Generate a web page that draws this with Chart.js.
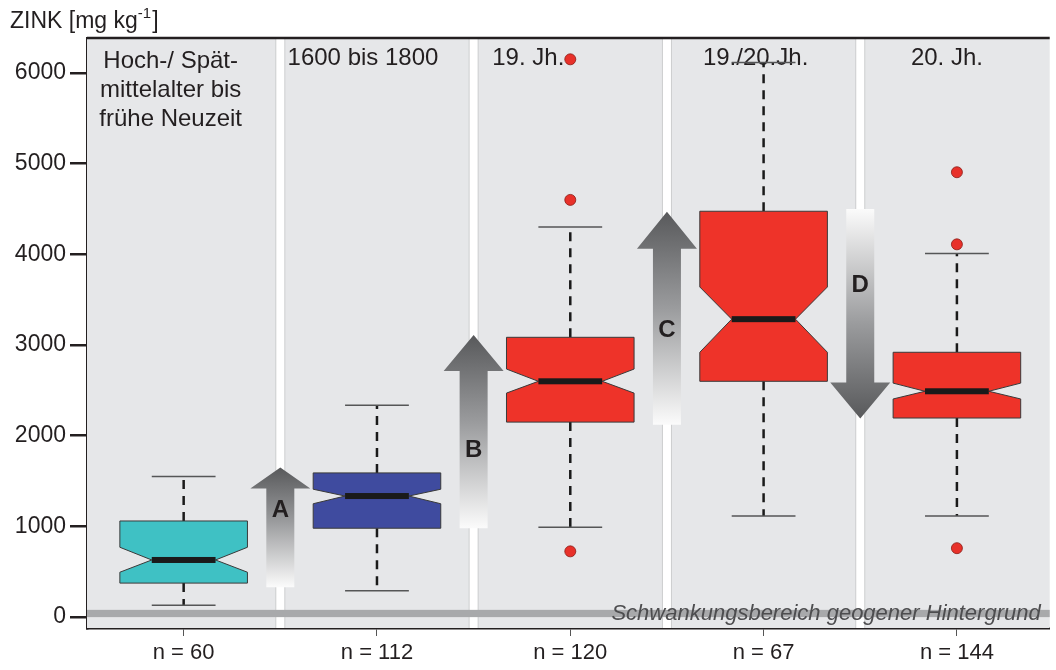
<!DOCTYPE html>
<html lang="de">
<head>
<meta charset="UTF-8">
<title>Zink</title>
<script src="https://cdn.jsdelivr.net/npm/chart.js"></script>
<style>
  body { margin: 0; background: #fff; }
</style>
</head>
<body>
<canvas id="zinkChart" width="1056" height="670"></canvas>
<script>
// Epochen und Stichprobenumfang
const epochen = [['Hoch-/ Spät-', 'mittelalter bis', 'frühe Neuzeit'], ['1600 bis 1800'], ['19. Jh.'], ['19./20.Jh.'], ['20. Jh.']];
const anzahl = [60, 112, 120, 67, 144];

// Boxplot-Kennwerte [mg/kg]
const unterWhisker = [130, 290, 990, 1115, 1115];
const q1 = [375, 980, 2150, 2600, 2195];
const notchUnten = [495, 1250, 2470, 2920, 2405];
const median = [630, 1335, 2600, 3285, 2490];
const notchOben = [770, 1410, 2735, 3640, 2580];
const q3 = [1060, 1590, 3085, 4475, 2920];
const oberWhisker = [1550, 2335, 4300, 6115, 4010];
const boxFarben = ['#3fc1c4', '#3f4b9f', '#ee3329', '#ee3329', '#ee3329'];

// Ausreisser
const ausreisserX = [2, 2, 2, 4, 4, 4];
const ausreisserY = [6150, 4600, 725, 4905, 4110, 760];

// Pfeile zwischen den Epochen
const pfeilX = [0.5, 1.5, 2.5, 3.5];
const pfeilVon = [330, 980, 2120, 4500];
const pfeilBis = [1650, 3110, 4470, 2190];
const pfeilText = ['A', 'B', 'C', 'D'];
const pfeilTextY = [1180, 1840, 3160, 3660];

// geogener Hintergrund
const hintergrund = [0, 80];
const yTicks = [0, 1000, 2000, 3000, 4000, 5000, 6000];

// nur Darstellung
const schrift = "'Liberation Sans', Arial, sans-serif";
const kopfVersatz = [-13, -14, -42, -8, -10];
const pfeilKopf = [21, 36, 37, 36];

const boxPlugin = {
  id: 'boxen',
  beforeDatasetsDraw(chart) {
    const { ctx, chartArea: a, scales: { x, y } } = chart;
    const catW = x.getPixelForValue(1) - x.getPixelForValue(0);
    ctx.save();

    // Hintergrund + Trenner
    ctx.fillStyle = '#e6e7e9';
    ctx.fillRect(a.left, a.top, a.right - a.left, a.bottom - a.top);
    for (let i = 0; i < anzahl.length - 1; i++) {
      const px = x.getPixelForValue(i + 0.5);
      ctx.fillStyle = '#cdcecf';
      ctx.fillRect(px - 5, a.top, 10, a.bottom - a.top);
      ctx.fillStyle = '#ffffff';
      ctx.fillRect(px - 4, a.top, 8, a.bottom - a.top);
    }

    // Band geogener Hintergrund
    const b0 = y.getPixelForValue(hintergrund[0]), b1 = y.getPixelForValue(hintergrund[1]);
    ctx.fillStyle = '#a8a9ab';
    ctx.fillRect(a.left, b1, a.right - a.left, b0 - b1);

    // Kopfzeilen
    ctx.fillStyle = '#231f20';
    ctx.font = '24px ' + schrift;
    ctx.textAlign = 'center';
    ctx.textBaseline = 'alphabetic';
    epochen.forEach((zeilen, i) => {
      const px = x.getPixelForValue(i) + kopfVersatz[i];
      const y0 = zeilen.length > 1 ? 68 : 65;
      zeilen.forEach((t, j) => ctx.fillText(t, px, y0 + j * 29));
    });

    // Pfeile
    pfeilX.forEach((pv, k) => {
      const px = x.getPixelForValue(pv);
      const y0 = y.getPixelForValue(pfeilVon[k]);
      const y1 = y.getPixelForValue(pfeilBis[k]);
      const dir = Math.sign(y1 - y0);
      const yb = y1 - dir * pfeilKopf[k];
      const sw = 14, hw = 30;
      const grad = ctx.createLinearGradient(0, y0, 0, y1);
      grad.addColorStop(0, '#fbfbfb');
      grad.addColorStop(0.55, '#9a9b9d');
      grad.addColorStop(1, '#58595b');
      ctx.fillStyle = grad;
      ctx.beginPath();
      ctx.moveTo(px - sw, y0);
      ctx.lineTo(px - sw, yb);
      ctx.lineTo(px - hw, yb);
      ctx.lineTo(px, y1);
      ctx.lineTo(px + hw, yb);
      ctx.lineTo(px + sw, yb);
      ctx.lineTo(px + sw, y0);
      ctx.closePath();
      ctx.fill();
      ctx.fillStyle = '#231f20';
      ctx.font = 'bold 24px ' + schrift;
      ctx.textBaseline = 'middle';
      ctx.fillText(pfeilText[k], px, y.getPixelForValue(pfeilTextY[k]));
    });

    // Boxen
    median.forEach((m, i) => {
      const cx = x.getPixelForValue(i);
      const hw = catW * 0.33, nw = hw * 0.5;
      const yq1 = y.getPixelForValue(q1[i]), yq3 = y.getPixelForValue(q3[i]);
      const ynu = y.getPixelForValue(notchUnten[i]), yno = y.getPixelForValue(notchOben[i]);
      const ym = y.getPixelForValue(m);
      const ywu = y.getPixelForValue(unterWhisker[i]), ywo = y.getPixelForValue(oberWhisker[i]);

      // Whisker
      ctx.strokeStyle = '#1a1a1a';
      ctx.lineWidth = 2.5;
      ctx.setLineDash([9, 7]);
      ctx.beginPath();
      ctx.moveTo(cx, yq3); ctx.lineTo(cx, ywo);
      ctx.moveTo(cx, yq1); ctx.lineTo(cx, ywu);
      ctx.stroke();
      ctx.setLineDash([]);
      ctx.strokeStyle = '#555657';
      ctx.lineWidth = 1.5;
      ctx.beginPath();
      ctx.moveTo(cx - nw, ywo); ctx.lineTo(cx + nw, ywo);
      ctx.moveTo(cx - nw, ywu); ctx.lineTo(cx + nw, ywu);
      ctx.stroke();

      // Box mit Kerbe
      ctx.fillStyle = boxFarben[i];
      ctx.strokeStyle = '#3a3a3a';
      ctx.lineWidth = 1;
      ctx.beginPath();
      ctx.moveTo(cx - hw, yq3);
      ctx.lineTo(cx + hw, yq3);
      ctx.lineTo(cx + hw, yno);
      ctx.lineTo(cx + nw, ym);
      ctx.lineTo(cx + hw, ynu);
      ctx.lineTo(cx + hw, yq1);
      ctx.lineTo(cx - hw, yq1);
      ctx.lineTo(cx - hw, ynu);
      ctx.lineTo(cx - nw, ym);
      ctx.lineTo(cx - hw, yno);
      ctx.closePath();
      ctx.fill();
      ctx.stroke();

      ctx.fillStyle = '#1a1a1a';
      ctx.fillRect(cx - nw, ym - 3, nw * 2, 6);
    });
    ctx.restore();
  },
  afterDraw(chart) {
    const { ctx, chartArea: a } = chart;
    ctx.save();
    // oberer Rahmen
    ctx.strokeStyle = '#231f20';
    ctx.lineWidth = 2.5;
    ctx.beginPath();
    ctx.moveTo(a.left, a.top);
    ctx.lineTo(a.right, a.top);
    ctx.stroke();

    // Achsentitel
    ctx.fillStyle = '#231f20';
    ctx.textBaseline = 'alphabetic';
    ctx.textAlign = 'left';
    ctx.font = '23px ' + schrift;
    const t = 'ZINK [mg kg';
    ctx.fillText(t, 10, 28);
    let w = ctx.measureText(t).width + 10;
    ctx.font = '15px ' + schrift;
    ctx.fillText('-1', w, 18);
    w += ctx.measureText('-1').width;
    ctx.font = '23px ' + schrift;
    ctx.fillText(']', w + 1, 28);

    // Bandbeschriftung
    ctx.fillStyle = '#4d4d4f';
    ctx.font = 'italic 22px ' + schrift;
    ctx.textAlign = 'right';
    ctx.fillText('Schwankungsbereich geogener Hintergrund', a.right - 9, 620);
    ctx.restore();
  }
};

new Chart(document.getElementById('zinkChart').getContext('2d'), {
  type: 'scatter',
  data: {
    datasets: [{
      data: ausreisserX.map((v, i) => ({ x: v, y: ausreisserY[i] })),
      pointRadius: 5.5,
      pointBackgroundColor: '#e8312a',
      pointBorderColor: '#8a1a14',
      pointBorderWidth: 0.8
    }]
  },
  options: {
    responsive: false,
    animation: false,
    layout: { padding: { top: 38, left: 0, right: 0, bottom: 0 } },
    plugins: { legend: { display: false }, tooltip: { enabled: false } },
    scales: {
      x: {
        type: 'linear',
        min: -0.5,
        max: 4.48,
        afterBuildTicks: s => { s.ticks = anzahl.map((n, i) => ({ value: i })); },
        ticks: {
          callback: (v, i) => 'n = ' + anzahl[i],
          font: { size: 22, family: schrift },
          color: '#231f20',
          padding: 4,
          maxRotation: 0,
          autoSkip: false
        },
        grid: { drawOnChartArea: false, tickLength: 8, color: '#555', lineWidth: 1 },
        border: { color: '#231f20', width: 2.5 },
        afterFit: s => { s.height = 42; }
      },
      y: {
        min: -120,
        max: 6385,
        afterBuildTicks: s => { s.ticks = yTicks.map(v => ({ value: v })); },
        ticks: {
          callback: v => String(v),
          font: { size: 23, family: schrift },
          color: '#231f20',
          padding: 4
        },
        grid: { drawOnChartArea: false, tickLength: 17, color: '#231f20', lineWidth: 2.5 },
        border: { color: '#231f20', width: 2.5 },
        afterFit: s => { s.width = 87; }
      }
    }
  },
  plugins: [boxPlugin]
});
</script>
</body>
</html>
